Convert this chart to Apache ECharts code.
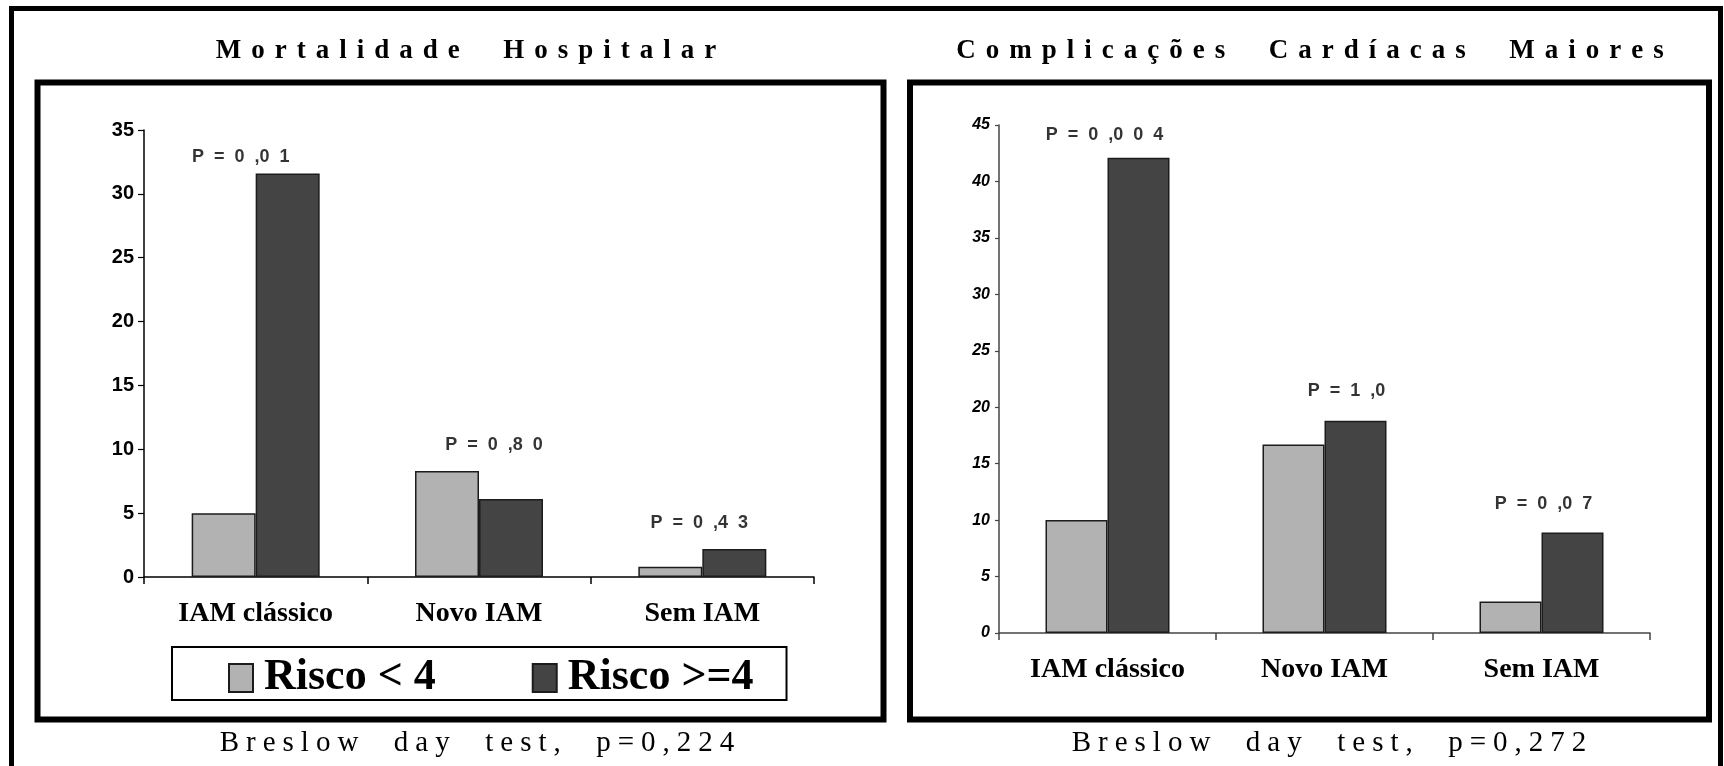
<!DOCTYPE html>
<html>
<head>
<meta charset="utf-8">
<title>Mortalidade Hospitalar / Complicações Cardíacas Maiores</title>
<script src="https://cdn.jsdelivr.net/npm/echarts@6/dist/echarts.min.js"></script>
<style>
  html, body { margin: 0; padding: 0; background: #ffffff; }
  #chart { width: 1724px; height: 766px; }
</style>
</head>
<body>
<div id="chart"></div>
<script>
// ---- data -------------------------------------------------------------
const categories = ['IAM clássico', 'Novo IAM', 'Sem IAM'];
const seriesNames = ['Risco < 4', 'Risco >=4'];

const panelTitles = ['Mortalidade Hospitalar', 'Complicações Cardíacas Maiores'];
const panelNotes = ['Breslow day test, p=0,224', 'Breslow day test, p=0,272'];

// Mortalidade hospitalar (%)
const mortLow = [5.0, 8.3, 0.8];
const mortHigh = [31.6, 6.1, 2.2];
const mortPValues = ['P = 0 ,0 1', 'P = 0 ,8 0', 'P = 0 ,4 3'];
const mortAxisMax = 35;
const mortAxisStep = 5;

// Complicações cardíacas maiores (%)
const compLow = [10.0, 16.7, 2.8];
const compHigh = [42.1, 18.8, 8.9];
const compPValues = ['P = 0 ,0 0 4', 'P = 1 ,0', 'P = 0 ,0 7'];
const compAxisMax = 45;
const compAxisStep = 5;

// ---- styles -----------------------------------------------------------
const SERIF = '"Liberation Serif", "Times New Roman", serif';
const SANS = '"Liberation Sans", Arial, sans-serif';
const LIGHT = '#b2b2b2';
const DARK = '#444444';
const EDGE = '#1c1c1c';

// nudges for the p-value captions, per category [dx, dy]
const mortPShift = [[-15, 9], [15, 0], [-3, 0]];
const compPShift = [[-3, 3], [22, -4], [2, -3]];

// letter-spaced text built from rich tokens (one token per character);
// word gaps are doubled
function spaced(str) {
  const chars = Array.from(str.replace(/ /g, '  '));
  return chars.map((c, i) => '{' + (i === chars.length - 1 ? 'e' : 's') + '|' + c + '}').join('');
}
function spacedRich(base, pad) {
  return {
    s: Object.assign({}, base, { padding: [0, pad, 0, 0] }),
    e: Object.assign({}, base)
  };
}
function widen(str) {
  return str.replace(/ /g, '  ');
}

const headStyle = { fontFamily: SERIF, fontWeight: 'bold', fontSize: 27, lineHeight: 30, color: '#000' };
const noteStyle = { fontFamily: SERIF, fontWeight: 'normal', fontSize: 29, lineHeight: 32, color: '#000' };

function pLabelSeries(xi, yi, low, high, texts, shifts) {
  return {
    type: 'scatter',
    xAxisIndex: xi,
    yAxisIndex: yi,
    symbolSize: 1,
    silent: true,
    itemStyle: { color: 'rgba(0,0,0,0)' },
    data: texts.map((t, i) => ({
      value: [i, Math.max(low[i], high[i])],
      label: { offset: shifts[i] }
    })),
    label: {
      show: true,
      position: 'top',
      distance: 16,
      formatter: p => widen(texts[p.dataIndex]),
      fontFamily: SANS,
      fontWeight: 'bold',
      fontSize: 18,
      color: '#000'
    },
    z: 5
  };
}

function barSeries(name, xi, yi, data, color, width) {
  return {
    type: 'bar',
    name: name,
    xAxisIndex: xi,
    yAxisIndex: yi,
    data: data,
    barWidth: width,
    barGap: '0%',
    itemStyle: { color: color, borderColor: EDGE, borderWidth: 1.5 },
    emphasis: { disabled: true }
  };
}

function categoryAxis(gi, lineColor) {
  return {
    type: 'category',
    gridIndex: gi,
    data: categories,
    boundaryGap: true,
    axisLine: { show: true, lineStyle: { color: lineColor, width: 1.5 } },
    axisTick: { show: true, length: 7, alignWithLabel: false, lineStyle: { color: lineColor, width: 1.5 } },
    axisLabel: { fontFamily: SERIF, fontWeight: 'bold', fontSize: 28, color: '#000', margin: 23, interval: 0 },
    splitLine: { show: false }
  };
}

function valueAxis(gi, max, step, lineColor, labelStyle, tickLen, margin) {
  return {
    type: 'value',
    gridIndex: gi,
    min: 0,
    max: max,
    interval: step,
    axisLine: { show: true, lineStyle: { color: lineColor, width: 1.5 } },
    axisTick: { show: true, length: tickLen, lineStyle: { color: lineColor, width: 1.2 } },
    axisLabel: Object.assign({ color: '#000', margin: margin }, labelStyle),
    splitLine: { show: false }
  };
}

const chart = echarts.init(document.getElementById('chart'), null, { renderer: 'canvas' });

chart.setOption({
  animation: false,
  backgroundColor: '#ffffff',
  title: [
    {
      text: spaced(panelTitles[0]), left: 466, top: 36, textAlign: 'center', padding: 0,
      textStyle: { rich: spacedRich(headStyle, 10) }
    },
    {
      text: spaced(panelTitles[1]), left: 1310, top: 36, textAlign: 'center', padding: 0,
      textStyle: { rich: spacedRich(headStyle, 10) }
    },
    {
      text: spaced(panelNotes[0]), left: 477, top: 727, textAlign: 'center', padding: 0,
      textStyle: { rich: spacedRich(noteStyle, 7) }
    },
    {
      text: spaced(panelNotes[1]), left: 1329, top: 727, textAlign: 'center', padding: 0,
      textStyle: { rich: spacedRich(noteStyle, 7) }
    }
  ],
  legend: {
    data: seriesNames,
    left: 172,
    top: 647,
    orient: 'horizontal',
    padding: [9, 33, 0, 56],
    itemWidth: 24,
    itemHeight: 28,
    itemGap: 96,
    icon: 'rect',
    selectedMode: false,
    borderColor: '#000',
    borderWidth: 2,
    backgroundColor: '#fff',
    formatter: n => '{t|' + n + '}',
    textStyle: {
      fontFamily: SERIF, fontWeight: 'bold', fontSize: 44, color: '#000',
      rich: { t: { fontFamily: SERIF, fontWeight: 'bold', fontSize: 44, lineHeight: 45, color: '#000', padding: [0, 0, 0, 6] } }
    }
  },
  grid: [
    { left: 144, right: 910, top: 130, bottom: 189 },
    { left: 999, right: 74, top: 125, bottom: 133 }
  ],
  xAxis: [
    categoryAxis(0, '#000'),
    categoryAxis(1, '#444')
  ],
  yAxis: [
    valueAxis(0, mortAxisMax, mortAxisStep, '#000',
      { fontFamily: SANS, fontWeight: 'bold', fontSize: 20 }, 6, 10),
    valueAxis(1, compAxisMax, compAxisStep, '#444',
      { fontFamily: SANS, fontWeight: 'bold', fontStyle: 'italic', fontSize: 16 }, 4, 9)
  ],
  series: [
    barSeries(seriesNames[0], 0, 0, mortLow, LIGHT, 64),
    barSeries(seriesNames[1], 0, 0, mortHigh, DARK, 64),
    barSeries(seriesNames[0], 1, 1, compLow, LIGHT, 62),
    barSeries(seriesNames[1], 1, 1, compHigh, DARK, 62),
    pLabelSeries(0, 0, mortLow, mortHigh, mortPValues, mortPShift),
    pLabelSeries(1, 1, compLow, compHigh, compPValues, compPShift)
  ],
  graphic: [
    // page border (open at the bottom edge)
    { type: 'rect', silent: true, z: 10,
      shape: { x: 11.5, y: 8.5, width: 1709, height: 820 },
      style: { fill: 'none', stroke: '#000', lineWidth: 5 } },
    // panel frames
    { type: 'rect', silent: true, z: 10,
      shape: { x: 37.5, y: 82.5, width: 846, height: 637 },
      style: { fill: 'none', stroke: '#000', lineWidth: 6 } },
    { type: 'rect', silent: true, z: 10,
      shape: { x: 910, y: 82.5, width: 799, height: 637 },
      style: { fill: 'none', stroke: '#000', lineWidth: 6 } }
  ]
});
</script>
</body>
</html>
